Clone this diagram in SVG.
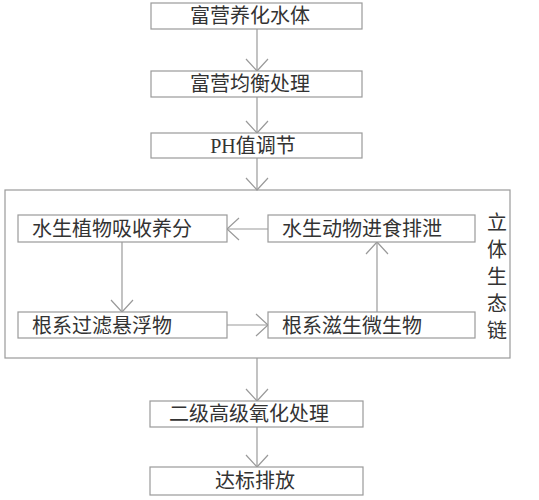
<svg xmlns="http://www.w3.org/2000/svg" width="539" height="500" viewBox="0 0 539 500">
<style>
.box{fill:#fff;stroke:#9a9a9a;stroke-width:1.2}
.t{font-family:"Liberation Serif","Noto Sans CJK SC",serif;font-size:20px;fill:#333}
.c{fill:none;stroke:#9a9a9a;stroke-width:1.2}
</style>
<defs>
<marker id="ah" markerUnits="userSpaceOnUse" markerWidth="30" markerHeight="30" viewBox="-15 -15 30 30" refX="0" refY="0" orient="auto">
<path d="M-12,-11 L0,0 L-12,11" fill="none" stroke="#9a9a9a" stroke-width="1.2"/>
</marker>
</defs>
<rect width="539" height="500" fill="#fff"/>
<g id="chain">
<rect class="box" x="5" y="190" width="505" height="168"/>
<text class="t" x="497" y="230" text-anchor="middle">立</text>
<text class="t" x="497" y="257" text-anchor="middle">体</text>
<text class="t" x="497" y="284" text-anchor="middle">生</text>
<text class="t" x="497" y="311" text-anchor="middle">态</text>
<text class="t" x="497" y="338" text-anchor="middle">链</text>
</g>
<g id="connectors">
<line class="c" x1="257" y1="29" x2="257" y2="71" marker-end="url(#ah)"/>
<line class="c" x1="257" y1="97" x2="257" y2="133" marker-end="url(#ah)"/>
<line class="c" x1="257" y1="158" x2="257" y2="190" marker-end="url(#ah)"/>
<line class="c" x1="257" y1="358" x2="257" y2="401" marker-end="url(#ah)"/>
<line class="c" x1="257" y1="427" x2="257" y2="467" marker-end="url(#ah)"/>
<line class="c" x1="268" y1="229" x2="227" y2="229" marker-end="url(#ah)"/>
<line class="c" x1="122" y1="242" x2="122" y2="312" marker-end="url(#ah)"/>
<line class="c" x1="227" y1="325" x2="268" y2="325" marker-end="url(#ah)"/>
<line class="c" x1="377" y1="312" x2="377" y2="242" marker-end="url(#ah)"/>
</g>
<g id="n1"><rect class="box" x="151" y="3" width="211" height="26"/><text class="t" x="250" y="23" text-anchor="middle">富营养化水体</text></g>
<g id="n2"><rect class="box" x="151" y="71" width="211" height="26"/><text class="t" x="250" y="91" text-anchor="middle">富营均衡处理</text></g>
<g id="n3"><rect class="box" x="151" y="133" width="211" height="25"/><text class="t" x="253" y="153" text-anchor="middle">PH值调节</text></g>
<g id="n4"><rect class="box" x="18" y="215" width="209" height="27"/><text class="t" x="32" y="236">水生植物吸收养分</text></g>
<g id="n5"><rect class="box" x="268" y="215" width="207" height="27"/><text class="t" x="282" y="236">水生动物进食排泄</text></g>
<g id="n6"><rect class="box" x="18" y="312" width="209" height="26"/><text class="t" x="32" y="333">根系过滤悬浮物</text></g>
<g id="n7"><rect class="box" x="268" y="312" width="207" height="26"/><text class="t" x="282" y="333">根系滋生微生物</text></g>
<g id="n8"><rect class="box" x="150" y="401" width="213" height="26"/><text class="t" x="249" y="421" text-anchor="middle">二级高级氧化处理</text></g>
<g id="n9"><rect class="box" x="150" y="467" width="213" height="28"/><text class="t" x="255" y="488" text-anchor="middle">达标排放</text></g>
</svg>
